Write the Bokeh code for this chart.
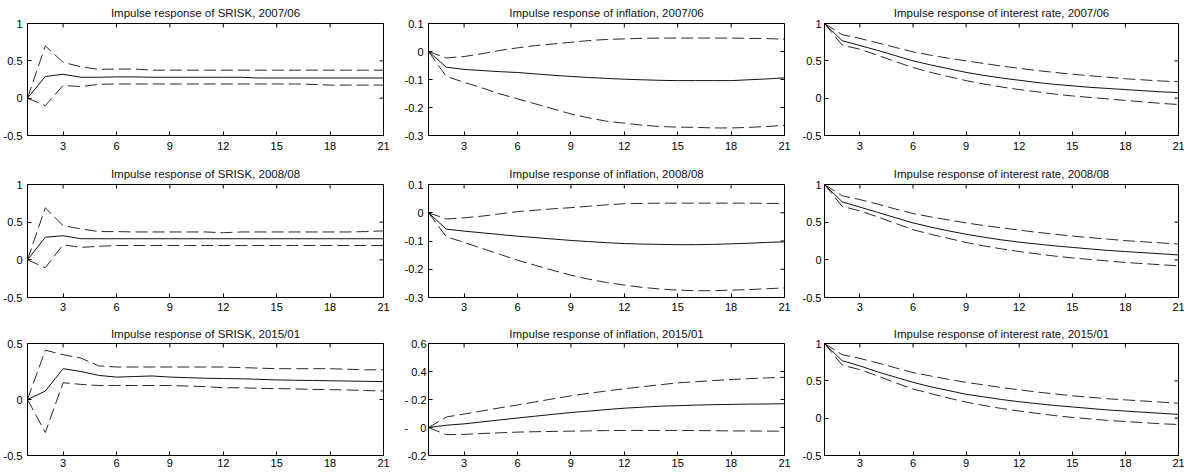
import math
from bokeh.plotting import figure
from bokeh.layouts import column, row
from bokeh.models import FixedTicker, Range1d
from bokeh.embed import file_html
from bokeh.resources import INLINE

horizon = list(range(1, 22))
x_ticks = [3, 6, 9, 12, 15, 18, 21]

# ---- SRISK ----
srisk_0706_med = [0, 0.29, 0.32, 0.28, 0.28, 0.285, 0.285, 0.28, 0.28, 0.28, 0.28, 0.28, 0.28, 0.27, 0.27, 0.27, 0.27, 0.27, 0.27, 0.27, 0.27]
srisk_0706_up = [0, 0.70, 0.48, 0.42, 0.385, 0.39, 0.39, 0.375, 0.375, 0.375, 0.375, 0.375, 0.375, 0.375, 0.375, 0.375, 0.375, 0.375, 0.375, 0.375, 0.375]
srisk_0706_lo = [0, -0.10, 0.17, 0.155, 0.185, 0.19, 0.19, 0.19, 0.19, 0.19, 0.19, 0.19, 0.19, 0.19, 0.19, 0.19, 0.185, 0.175, 0.175, 0.175, 0.175]

srisk_0808_med = [0, 0.30, 0.32, 0.28, 0.28, 0.28, 0.28, 0.28, 0.28, 0.28, 0.28, 0.28, 0.28, 0.28, 0.28, 0.28, 0.28, 0.28, 0.28, 0.28, 0.28]
srisk_0808_up = [0, 0.69, 0.455, 0.41, 0.375, 0.375, 0.37, 0.37, 0.37, 0.37, 0.37, 0.36, 0.37, 0.37, 0.37, 0.37, 0.37, 0.37, 0.37, 0.375, 0.385]
srisk_0808_lo = [0, -0.105, 0.20, 0.165, 0.18, 0.19, 0.19, 0.19, 0.19, 0.19, 0.19, 0.19, 0.19, 0.19, 0.19, 0.19, 0.19, 0.19, 0.19, 0.19, 0.19]

srisk_1501_med = [0, 0.075, 0.275, 0.25, 0.215, 0.20, 0.205, 0.21, 0.20, 0.195, 0.19, 0.187, 0.185, 0.18, 0.175, 0.172, 0.17, 0.167, 0.165, 0.162, 0.16]
srisk_1501_up = [0, 0.44, 0.40, 0.37, 0.30, 0.29, 0.29, 0.29, 0.29, 0.29, 0.29, 0.29, 0.285, 0.28, 0.275, 0.275, 0.275, 0.275, 0.27, 0.265, 0.265]
srisk_1501_lo = [0, -0.295, 0.15, 0.135, 0.125, 0.125, 0.125, 0.125, 0.125, 0.12, 0.115, 0.105, 0.105, 0.10, 0.097, 0.095, 0.09, 0.088, 0.085, 0.08, 0.076]

# ---- inflation ----
infl_0706_med = [0, -0.056, -0.064, -0.068, -0.072, -0.075, -0.080, -0.085, -0.089, -0.093, -0.096, -0.099, -0.101, -0.103, -0.104, -0.104, -0.104, -0.104, -0.101, -0.098, -0.094]
infl_0706_up = [0, -0.023, -0.018, -0.008, 0.004, 0.013, 0.021, 0.027, 0.033, 0.039, 0.043, 0.045, 0.047, 0.048, 0.048, 0.048, 0.048, 0.048, 0.047, 0.046, 0.044]
infl_0706_lo = [0, -0.089, -0.11, -0.13, -0.151, -0.169, -0.187, -0.205, -0.223, -0.237, -0.249, -0.256, -0.263, -0.268, -0.27, -0.271, -0.273, -0.273, -0.271, -0.268, -0.264]

infl_0808_med = [0, -0.058, -0.065, -0.071, -0.077, -0.083, -0.088, -0.093, -0.098, -0.102, -0.106, -0.109, -0.111, -0.112, -0.113, -0.113, -0.112, -0.11, -0.108, -0.105, -0.103]
infl_0808_up = [0, -0.022, -0.018, -0.012, -0.004, 0.004, 0.009, 0.014, 0.018, 0.023, 0.028, 0.032, 0.033, 0.034, 0.034, 0.034, 0.034, 0.034, 0.034, 0.033, 0.033]
infl_0808_lo = [0, -0.085, -0.105, -0.126, -0.147, -0.168, -0.186, -0.204, -0.221, -0.235, -0.247, -0.256, -0.264, -0.27, -0.274, -0.276, -0.276, -0.274, -0.272, -0.269, -0.266]

infl_1501_med = [0, 0.016, 0.026, 0.040, 0.054, 0.068, 0.081, 0.094, 0.107, 0.117, 0.128, 0.138, 0.145, 0.152, 0.156, 0.160, 0.163, 0.165, 0.167, 0.168, 0.170]
infl_1501_up = [0, 0.075, 0.096, 0.118, 0.140, 0.161, 0.183, 0.205, 0.226, 0.244, 0.261, 0.277, 0.291, 0.305, 0.319, 0.327, 0.335, 0.343, 0.349, 0.354, 0.359]
infl_1501_lo = [0, -0.051, -0.049, -0.043, -0.038, -0.033, -0.030, -0.028, -0.026, -0.024, -0.022, -0.021, -0.021, -0.021, -0.021, -0.022, -0.023, -0.024, -0.025, -0.026, -0.026]

# ---- interest rate ----
ir_0706_med = [1, 0.77, 0.705, 0.64, 0.57, 0.50, 0.445, 0.395, 0.345, 0.305, 0.27, 0.24, 0.21, 0.185, 0.165, 0.145, 0.13, 0.115, 0.10, 0.085, 0.075]
ir_0706_up = [1, 0.85, 0.80, 0.74, 0.68, 0.62, 0.575, 0.535, 0.50, 0.465, 0.43, 0.40, 0.37, 0.345, 0.32, 0.30, 0.28, 0.26, 0.245, 0.23, 0.22]
ir_0706_lo = [1, 0.71, 0.655, 0.575, 0.49, 0.41, 0.345, 0.29, 0.235, 0.19, 0.15, 0.115, 0.085, 0.055, 0.03, 0.01, -0.01, -0.03, -0.05, -0.07, -0.085]

ir_0808_med = [1, 0.77, 0.70, 0.63, 0.56, 0.49, 0.435, 0.385, 0.34, 0.30, 0.265, 0.235, 0.21, 0.185, 0.165, 0.145, 0.125, 0.11, 0.095, 0.08, 0.065]
ir_0808_up = [1, 0.85, 0.80, 0.74, 0.675, 0.615, 0.57, 0.53, 0.49, 0.455, 0.425, 0.395, 0.365, 0.34, 0.315, 0.295, 0.275, 0.255, 0.24, 0.225, 0.21]
ir_0808_lo = [1, 0.71, 0.65, 0.57, 0.485, 0.40, 0.34, 0.285, 0.23, 0.185, 0.145, 0.11, 0.08, 0.05, 0.025, 0.005, -0.015, -0.035, -0.05, -0.065, -0.08]

ir_1501_med = [1, 0.77, 0.70, 0.62, 0.55, 0.48, 0.42, 0.37, 0.32, 0.285, 0.25, 0.22, 0.195, 0.17, 0.15, 0.13, 0.11, 0.095, 0.08, 0.065, 0.05]
ir_1501_up = [1, 0.85, 0.80, 0.74, 0.675, 0.61, 0.565, 0.52, 0.48, 0.445, 0.41, 0.38, 0.35, 0.325, 0.30, 0.28, 0.26, 0.245, 0.23, 0.215, 0.20]
ir_1501_lo = [1, 0.71, 0.65, 0.565, 0.475, 0.39, 0.33, 0.27, 0.215, 0.17, 0.13, 0.095, 0.065, 0.035, 0.01, -0.01, -0.03, -0.045, -0.06, -0.075, -0.085]

# y ticks / labels
srisk_ticks = [-0.5, 0, 0.5, 1]
srisk_labels = ["-0.5", "0", "0.5", "1"]
srisk15_ticks = [-0.5, 0, 0.5]
srisk15_labels = ["-0.5", "0", "0.5"]
infl_ticks = [-0.3, -0.2, -0.1, 0, 0.1]
infl_labels = ["-0.3", "-0.2", "-0.1", "0", "0.1"]
infl15_ticks = [-0.2, 0, 0.2, 0.4, 0.6]
infl15_labels = ["-0.2", "-\u00a0\u00a0\u00a0\u00a00", "- 0.2", "0.4", "0.6"]
ir_ticks = [-0.5, 0, 0.5, 1]
ir_labels = ["-0.5", "0", "0.5", "1"]

panels = [
    [("Impulse response of SRISK, 2007/06", srisk_0706_med, srisk_0706_up, srisk_0706_lo, (-0.5, 1), srisk_ticks, srisk_labels),
     ("Impulse response of inflation, 2007/06", infl_0706_med, infl_0706_up, infl_0706_lo, (-0.3, 0.1), infl_ticks, infl_labels),
     ("Impulse response of interest rate, 2007/06", ir_0706_med, ir_0706_up, ir_0706_lo, (-0.5, 1), ir_ticks, ir_labels)],
    [("Impulse response of SRISK, 2008/08", srisk_0808_med, srisk_0808_up, srisk_0808_lo, (-0.5, 1), srisk_ticks, srisk_labels),
     ("Impulse response of inflation, 2008/08", infl_0808_med, infl_0808_up, infl_0808_lo, (-0.3, 0.1), infl_ticks, infl_labels),
     ("Impulse response of interest rate, 2008/08", ir_0808_med, ir_0808_up, ir_0808_lo, (-0.5, 1), ir_ticks, ir_labels)],
    [("Impulse response of SRISK, 2015/01", srisk_1501_med, srisk_1501_up, srisk_1501_lo, (-0.5, 0.5), srisk15_ticks, srisk15_labels),
     ("Impulse response of inflation, 2015/01", infl_1501_med, infl_1501_up, infl_1501_lo, (-0.2, 0.6), infl15_ticks, infl15_labels),
     ("Impulse response of interest rate, 2015/01", ir_1501_med, ir_1501_up, ir_1501_lo, (-0.5, 1), ir_ticks, ir_labels)],
]

col_left = [26, 26, 26]
col_right = [18, 14, 8]
col_fw = [356, 356, 354]
ystand = [[5, 5, 3], [5, 5, 3], [5, 2, 3]]
row_top = [23, 24, 23]
row_bottom = [25, 23, 17]
row_fh = [112, 113, 112]
row_xstand = [6, 5, 3]
row_title_stand = [9, 10, 7]

FONT = "Liberation Sans"


def style_axis(ax, standoff):
    ax.axis_line_color = None
    ax.major_tick_in = 4
    ax.major_tick_out = 0
    ax.minor_tick_in = 0
    ax.minor_tick_out = 0
    ax.major_tick_line_color = "black"
    ax.major_label_text_font = FONT
    ax.major_label_text_color = "black"
    ax.major_label_text_font_size = "11px"
    ax.major_label_standoff = standoff


rows = []
for r in range(3):
    figs = []
    for c in range(3):
        title, med, up, lo, yr, yt, yl = panels[r][c]
        p = figure(frame_width=col_fw[c], frame_height=row_fh[r],
                   x_range=Range1d(1, 21), y_range=Range1d(*yr),
                   output_backend="svg", toolbar_location=None,
                   min_border_left=col_left[c], min_border_right=col_right[c],
                   min_border_top=row_top[r], min_border_bottom=row_bottom[r],
                   background_fill_color="white", border_fill_color="white")
        p.title.text = title
        p.title.text_font = FONT
        p.title.text_font_size = "11.5px"
        p.title.text_font_style = "normal"
        p.title.text_color = "#111111"
        p.title.align = "center"
        p.title.standoff = row_title_stand[r]
        p.outline_line_color = "black"
        p.outline_line_width = 1
        p.grid.visible = False

        p.xaxis.ticker = FixedTicker(ticks=x_ticks)
        p.yaxis.ticker = FixedTicker(ticks=yt)
        p.yaxis.major_label_overrides = {t: s for t, s in zip(yt, yl)}
        style_axis(p.xaxis[0], row_xstand[r])
        style_axis(p.yaxis[0], ystand[r][c])

        # inward ticks on the top and right edges of the box (MATLAB style)
        p.ray(x=x_ticks, y=[yr[1]] * len(x_ticks), length=4, length_units="screen",
              angle=-math.pi / 2, line_color="black", line_width=1)
        p.ray(x=[21] * len(yt), y=yt, length=4, length_units="screen",
              angle=math.pi, line_color="black", line_width=1)

        p.line(horizon, up, line_color="#2a2a2a", line_width=1, line_dash="12 5")
        p.line(horizon, lo, line_color="#2a2a2a", line_width=1, line_dash="12 5")
        p.line(horizon, med, line_color="#111111", line_width=1)
        figs.append(p)
    rows.append(row(*figs, spacing=0))

layout = column(*rows, spacing=0)
open("out.html", "w").write(file_html(layout, INLINE))
